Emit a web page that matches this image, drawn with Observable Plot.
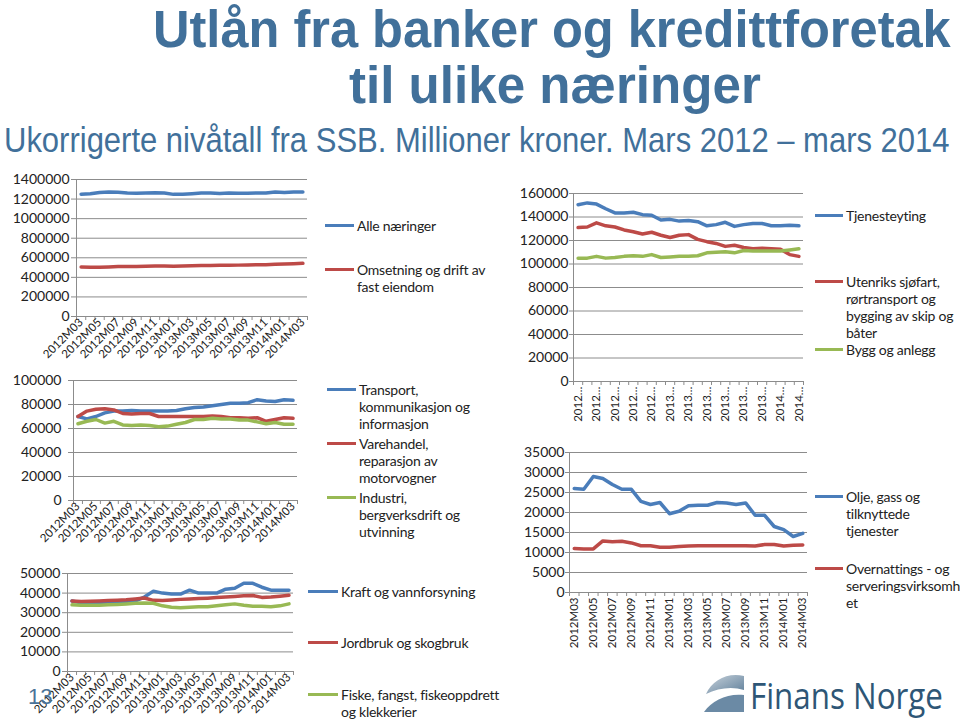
<!DOCTYPE html>
<html><head><meta charset="utf-8">
<script src="https://cdn.jsdelivr.net/npm/d3@7"></script>
<script src="https://cdn.jsdelivr.net/npm/@observablehq/plot@0.6"></script>
<style>
body{margin:0;background:#fff;}
#root{position:relative;width:960px;height:720px;overflow:hidden;font-family:Lato,"Open Sans",sans-serif;}
.panel{position:absolute;}
.leg{position:absolute;font-family:Lato,"Open Sans",sans-serif;font-size:14px;letter-spacing:-0.25px;color:#222;line-height:17px;white-space:nowrap;}
.legline{position:absolute;height:3px;}
svg.titles{position:absolute;left:0;top:0;}
</style></head><body><div id="root"></div>
<script>
// ---- categories ----
const months = ["2012M03","2012M04","2012M05","2012M06","2012M07","2012M08","2012M09","2012M10","2012M11","2012M12",
  "2013M01","2013M02","2013M03","2013M04","2013M05","2013M06","2013M07","2013M08","2013M09","2013M10","2013M11","2013M12",
  "2014M01","2014M02","2014M03"];
const shortLabels = months.map(m => m.slice(0, 4) + "…");

// ---- series values (millioner kroner) ----
const alleNaeringer = [1250000,1255000,1268000,1272000,1270000,1262000,1260000,1262000,1265000,1262000,1248000,1250000,1255000,1262000,1262000,1258000,1262000,1260000,1260000,1262000,1262000,1272000,1268000,1272000,1272000];
const omsetningEiendom = [505000,503000,504000,507000,510000,510000,512000,513000,515000,515000,514000,515000,518000,520000,522000,523000,524000,525000,527000,528000,530000,533000,537000,540000,543000];

const transport = [70000,68000,70000,73000,74500,74500,75000,74500,74500,74500,74500,75000,76500,77500,78000,79000,80000,81000,81000,81500,84000,83000,82500,84000,83500];
const varehandel = [70000,74500,76000,76500,75500,72500,72000,72500,72500,70000,70000,70000,70000,70000,70000,70500,70000,69000,69000,68500,69000,66000,67500,69000,68500];
const industri = [64000,66000,67500,64500,66000,63000,62500,63000,62500,61500,62000,63500,65000,67500,67500,68500,68000,68000,67000,67000,65500,64000,65000,63500,63500];

const kraft = [36000,35000,35000,35000,35000,35500,35500,36000,38000,41000,40000,39500,39500,41500,40000,40000,40000,42000,42500,45000,45000,43000,41500,41500,41500];
const jordbruk = [36000,35700,35800,36000,36200,36400,36600,37000,37500,36300,36200,36500,36800,37000,37200,37400,37700,38000,38300,38600,38800,37800,38000,38400,38900];
const fiske = [34000,33800,33800,33800,34000,34200,34500,34800,35000,34800,33500,32800,32500,32800,33000,33000,33500,34000,34500,33800,33300,33300,33000,33500,34500];

const tjenesteyting = [150500,152000,151000,147000,143500,143500,144000,142000,141500,137500,138000,136500,137000,136000,132500,133500,135500,132000,133500,134500,134500,132500,132500,133000,132500];
const utenriks = [131000,131500,135000,132500,131500,129000,127500,125500,127000,124500,122500,124500,125000,121000,119000,117500,115000,116000,114000,113000,113500,113000,112500,108000,106500];
const bygg = [105000,105000,106500,105000,105500,106500,107000,106500,108000,105500,106000,106500,106500,107000,109500,110000,110500,109500,111500,111000,111000,111000,111000,112000,113000];

const olje = [26000,25800,29000,28500,27000,25800,25800,22800,22000,22500,19700,20300,21700,21800,21800,22500,22400,22000,22400,19300,19300,16500,15700,14000,14800];
const overnatting = [11000,10900,10900,12900,12700,12800,12400,11700,11700,11300,11300,11500,11600,11700,11700,11700,11700,11700,11700,11600,12000,12000,11600,11800,11900];

const BLUE = "#4a7dba", RED = "#bd4a47", GREEN = "#98b954", GRID = "#8c8c8c", INK = "#222";
const root = document.getElementById("root");

function panel(cfg) {
  const rows = cfg.series.flatMap(s => s.values.map((v, i) => ({i, v, name: s.name})));
  const idx = months.map((_, i) => i);
  const bounds = d3.range(months.length + 1).map(i => i - 0.5);
  const even = idx.filter(i => i % 2 === 0);
  const yt = d3.range(0, cfg.yMax + 1, cfg.yStep);
  const chart = Plot.plot({
    width: cfg.width, height: cfg.height,
    marginLeft: cfg.ml, marginRight: cfg.mr, marginTop: cfg.mt, marginBottom: cfg.mb,
    style: {fontFamily: "Lato, 'Open Sans', sans-serif", background: "transparent", overflow: "visible", color: INK},
    x: {type: "linear", domain: [-0.5, months.length - 0.5]},
    y: {domain: [0, cfg.yMax]},
    color: {domain: cfg.series.map(s => s.name), range: cfg.series.map(s => s.color)},
    marks: [
      Plot.gridY(yt.filter(v => v > 0), {stroke: GRID, strokeOpacity: 1, strokeWidth: 1}),
      Plot.ruleY([0], {stroke: GRID}),
      Plot.ruleX([-0.5], {stroke: GRID}),
      Plot.axisY({ticks: yt, tickSize: cfg.ytSize, tickPadding: cfg.ytPad, stroke: GRID, fill: INK,
        fontSize: 14, tickFormat: d => String(d), label: null}),
      Plot.axisX({ticks: bounds, tickSize: 4, stroke: GRID, fill: "none", label: null}),
      Plot.axisX({ticks: even, tickSize: 0, tickPadding: cfg.xtPad, tickRotate: cfg.rotate, fill: INK,
        fontSize: cfg.xFont, tickFormat: i => cfg.labels[i], label: null}),
      Plot.line(rows, {x: "i", y: "v", z: "name", stroke: "name", strokeWidth: 3.5, strokeLinejoin: "round", strokeLinecap: "round"})
    ]
  });
  const div = document.createElement("div");
  div.className = "panel";
  div.style.left = cfg.left + "px";
  div.style.top = cfg.top + "px";
  div.appendChild(chart);
  root.appendChild(div);
}

function legend(items) {
  for (const it of items) {
    const line = document.createElement("div");
    line.className = "legline";
    line.style.left = it.x1 + "px";
    line.style.width = (it.x2 - it.x1) + "px";
    line.style.top = (it.y - 1.5) + "px";
    line.style.background = it.color;
    root.appendChild(line);
    const t = document.createElement("div");
    t.className = "leg";
    t.style.left = it.tx + "px";
    t.style.top = (it.y - 8.5) + "px";
    t.innerHTML = it.lines.join("<br>");
    root.appendChild(t);
  }
}

// Panel 1
panel({left: 0, top: 160, width: 320, height: 210, ml: 76, mr: 13, mt: 19, mb: 54,
  yMax: 1400000, yStep: 200000, ytSize: 5, ytPad: 2, xtPad: 4, rotate: -45, xFont: 11.5, labels: months,
  series: [{name: "Alle næringer", values: alleNaeringer, color: BLUE},
           {name: "Omsetning og drift av fast eiendom", values: omsetningEiendom, color: RED}]});
// Panel 2
panel({left: 0, top: 360, width: 320, height: 190, ml: 73, mr: 23, mt: 20, mb: 50,
  yMax: 100000, yStep: 20000, ytSize: 5, ytPad: 7, xtPad: 4, rotate: -45, xFont: 11.5, labels: months,
  series: [{name: "Transport, kommunikasjon og informasjon", values: transport, color: BLUE},
           {name: "Varehandel, reparasjon av motorvogner", values: varehandel, color: RED},
           {name: "Industri, bergverksdrift og utvinning", values: industri, color: GREEN}]});
// Panel 3
panel({left: 0, top: 553, width: 320, height: 167, ml: 67, mr: 27, mt: 20, mb: 49,
  yMax: 50000, yStep: 10000, ytSize: 5, ytPad: 2, xtPad: 4, rotate: -45, xFont: 11.5, labels: months,
  series: [{name: "Kraft og vannforsyning", values: kraft, color: BLUE},
           {name: "Jordbruk og skogbruk", values: jordbruk, color: RED},
           {name: "Fiske, fangst, fiskeoppdrett og klekkerier", values: fiske, color: GREEN}]});
// Panel 4
panel({left: 500, top: 175, width: 320, height: 245, ml: 73, mr: 17, mt: 18, mb: 39,
  yMax: 160000, yStep: 20000, ytSize: 4, ytPad: 1, xtPad: 5, rotate: -90, xFont: 11.5, labels: shortLabels,
  series: [{name: "Tjenesteyting", values: tjenesteyting, color: BLUE},
           {name: "Utenriks sjøfart, rørtransport og bygging av skip og båter", values: utenriks, color: RED},
           {name: "Bygg og anlegg", values: bygg, color: GREEN}]});
// Panel 5
panel({left: 500, top: 432, width: 320, height: 228, ml: 69, mr: 13, mt: 20, mb: 68,
  yMax: 35000, yStep: 5000, ytSize: 4, ytPad: 1, xtPad: 5, rotate: -90, xFont: 11.5, labels: months,
  series: [{name: "Olje, gass og tilknyttede tjenester", values: olje, color: BLUE},
           {name: "Overnattings - og serveringsvirksomhet", values: overnatting, color: RED}]});

legend([
  {x1: 325, x2: 354, tx: 357, y: 225, color: BLUE, lines: ["Alle næringer"]},
  {x1: 325, x2: 354, tx: 357, y: 269, color: RED, lines: ["Omsetning og drift av", "fast eiendom"]},
  {x1: 327, x2: 356, tx: 359, y: 389, color: BLUE, lines: ["Transport,", "kommunikasjon og", "informasjon"]},
  {x1: 327, x2: 356, tx: 359, y: 443, color: RED, lines: ["Varehandel,", "reparasjon av", "motorvogner"]},
  {x1: 327, x2: 356, tx: 359, y: 497, color: GREEN, lines: ["Industri,", "bergverksdrift og", "utvinning"]},
  {x1: 308, x2: 338, tx: 341, y: 591, color: BLUE, lines: ["Kraft og vannforsyning"]},
  {x1: 308, x2: 338, tx: 341, y: 642, color: RED, lines: ["Jordbruk og skogbruk"]},
  {x1: 308, x2: 338, tx: 341, y: 694, color: GREEN, lines: ["Fiske, fangst, fiskeoppdrett", "og klekkerier"]},
  {x1: 815, x2: 843, tx: 846, y: 215, color: BLUE, lines: ["Tjenesteyting"]},
  {x1: 815, x2: 843, tx: 846, y: 281, color: RED, lines: ["Utenriks sjøfart,", "rørtransport og", "bygging av skip og", "båter"]},
  {x1: 815, x2: 843, tx: 846, y: 349, color: GREEN, lines: ["Bygg og anlegg"]},
  {x1: 815, x2: 843, tx: 846, y: 496, color: BLUE, lines: ["Olje, gass og", "tilknyttede", "tjenester"]},
  {x1: 815, x2: 843, tx: 846, y: 568, color: RED, lines: ["Overnattings - og", "serveringsvirksomh", "et"]}
]);

// Titles, page number and logo
const svg = d3.select(root).append("svg").attr("class", "titles").attr("width", 960).attr("height", 720)
  .style("pointer-events", "none");
const TITLE = "#41709a";
const narrow = "'Liberation Sans Narrow','Arial Narrow','Liberation Sans',Arial,sans-serif";
// Text squeezed horizontally to a target width with a transform (keeps true bounding box)
function txt(s, x, y, size, weight, len, color, family) {
  const g = svg.append("g");
  const t = g.append("text").attr("x", 0).attr("y", 0).attr("font-size", size).attr("font-weight", weight)
    .attr("fill", color).attr("font-family", family).text(s);
  let sx = 1;
  if (len) {
    const w = t.node().getComputedTextLength();
    if (w > 0) sx = len / w;
  }
  g.attr("transform", `translate(${x},${y}) scale(${sx},1)`);
  return t;
}
txt("Utlån fra banker og kredittforetak", 153, 47, 51, "bold", 798, TITLE, narrow);
txt("til ulike næringer", 349, 103, 51, "bold", 412, TITLE, narrow);
txt("Ukorrigerte nivåtall fra SSB. Millioner kroner. Mars 2012 – mars 2014", 4, 152, 36, "normal", 946, TITLE, narrow);
txt("13", 28, 704, 22, "normal", null, "#4a7399", "'Liberation Sans',Arial,sans-serif");
txt("Finans Norge", 750, 709, 37, "normal", 193, "#2e5676", "'Open Sans',Lato,sans-serif");
// logo icon
const grad = svg.append("defs").append("linearGradient").attr("id", "lg").attr("x1", 0).attr("y1", 0).attr("x2", 1).attr("y2", 1);
grad.append("stop").attr("offset", "0%").attr("stop-color", "#c9d3dc");
grad.append("stop").attr("offset", "100%").attr("stop-color", "#5f7f9a");
svg.append("path").attr("d", "M706,694 C712,680 728,672 744,676 L744,690 C732,686 718,688 706,694 Z").attr("fill", "url(#lg)");
svg.append("path").attr("d", "M704,712 C712,700 728,693 744,695 L744,712 Z").attr("fill", "#6b8aa5");
</script></body></html>
